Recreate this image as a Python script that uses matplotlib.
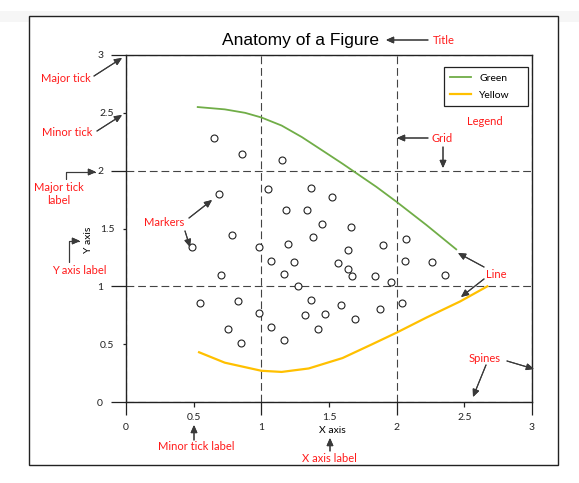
import matplotlib.pyplot as plt
from matplotlib.patches import Rectangle

plt.rcParams['font.family'] = ['Lato', 'DejaVu Sans']

W, H = 579, 483

# Data
marker_x = [0.65, 0.86, 1.15, 0.69, 1.05, 1.37, 1.52, 1.18, 1.34, 1.45,
            0.78, 1.66, 1.38, 0.49, 0.98, 1.20, 1.64, 1.90, 2.07, 1.07,
            1.24, 1.57, 1.64, 2.06, 2.26, 0.70, 1.17, 1.67, 1.84, 2.36,
            1.27, 1.96, 0.55, 0.83, 0.98, 1.37, 1.59, 2.04, 1.47, 1.32,
            1.88, 1.69, 0.75, 1.07, 1.42, 0.85, 1.17]
marker_y = [2.28, 2.14, 2.09, 1.80, 1.84, 1.85, 1.77, 1.66, 1.66, 1.54,
            1.44, 1.51, 1.43, 1.34, 1.34, 1.37, 1.31, 1.36, 1.41, 1.22,
            1.21, 1.20, 1.15, 1.22, 1.21, 1.10, 1.11, 1.09, 1.09, 1.10,
            1.00, 1.04, 0.86, 0.87, 0.77, 0.88, 0.84, 0.86, 0.76, 0.75,
            0.80, 0.72, 0.63, 0.65, 0.63, 0.51, 0.54]

green_x = [0.53, 0.73, 0.88, 1.00, 1.15, 1.30, 1.47, 1.60, 1.85, 2.00, 2.22, 2.44]
green_y = [2.55, 2.53, 2.50, 2.46, 2.39, 2.29, 2.16, 2.06, 1.86, 1.73, 1.53, 1.32]

yellow_x = [0.54, 0.73, 1.00, 1.15, 1.35, 1.60, 1.82, 2.00, 2.22, 2.47, 2.67]
yellow_y = [0.43, 0.34, 0.27, 0.26, 0.29, 0.38, 0.50, 0.60, 0.73, 0.87, 1.00]

major_ticks = [0, 1, 2, 3]
major_labels = ['0', '1', '2', '3']
minor_ticks = [0.5, 1.5, 2.5]
minor_labels = ['0.5', '1.5', '2.5']

fig = plt.figure(figsize=(W / 100, H / 100), dpi=100)
fig.patch.set_facecolor('white')


def fx(x):
    return x / W


def fy(y):
    return 1 - y / H


# outer frame
fig.add_artist(Rectangle((fx(0), fy(22)), 1, 11 / H, transform=fig.transFigure,
                         facecolor='#f6f6f6', edgecolor='none', zorder=0))
fig.add_artist(Rectangle((fx(29), fy(465)), (558 - 29) / W, (465 - 16) / H,
                         transform=fig.transFigure, facecolor='white',
                         edgecolor='#222222', lw=1.0, zorder=0.5))

ax = fig.add_axes([fx(126), fy(402), (532 - 126) / W, (402 - 55) / H])
ax.set_zorder(1)
ax.patch.set_alpha(0)

ax.plot(green_x, green_y, color='#70ad47', lw=1.3, label='Green',
        solid_joinstyle='round')
ax.plot(yellow_x, yellow_y, color='#ffc000', lw=1.6, label='Yellow',
        solid_joinstyle='round')
ax.plot(marker_x, marker_y, ls='none', marker='o', ms=5, mfc='white',
        mec='#222222', mew=0.8)

ax.set_xlim(0, 3)
ax.set_ylim(0, 3)
ax.set_xticks(major_ticks, major_labels)
ax.set_xticks(minor_ticks, minor_labels, minor=True)
ax.set_yticks(major_ticks, major_labels)
ax.set_yticks(minor_ticks, minor_labels, minor=True)

ax.tick_params(axis='both', which='both', direction='out', width=0.9,
               colors='#222222', labelsize=7.5)
ax.tick_params(axis='x', which='major', length=9.4, pad=6)
ax.tick_params(axis='x', which='minor', length=3.6, pad=4)
ax.tick_params(axis='y', which='major', length=10.5, pad=6)
ax.tick_params(axis='y', which='minor', length=2.5, pad=6)

for s in ax.spines.values():
    s.set_linewidth(1.0)
    s.set_color('#222222')

ax.set_axisbelow(True)
ax.grid(True, which='major', color='#444444', lw=0.8, ls=(0, (7, 3.5)))

ax.set_title('Anatomy of a Figure', family=['Liberation Sans', 'DejaVu Sans'],
             fontsize=12.5, x=(300 - 126) / 406, pad=7)
ax.set_xlabel('X axis', fontsize=7.5)
ax.xaxis.set_label_coords((332 - 126) / 406, (402 - 426) / 347)
ax.set_ylabel('Y axis', fontsize=7.5)
ax.yaxis.set_label_coords((93 - 126) / 406, (402 - 240) / 347)

leg = ax.legend(loc='upper left', mode='expand',
                bbox_to_anchor=((444 - 126) / 406, (402 - 67) / 347, 84 / 406, 0),
                borderaxespad=0, fancybox=False, edgecolor='#222222', framealpha=1,
                fontsize=7.5, handlelength=2.0, handletextpad=0.8,
                labelspacing=0.75, borderpad=0.6)
leg.get_frame().set_linewidth(0.9)

# red annotations
red = '#ff1a1a'
arrow_kw = dict(arrowstyle='-|>,head_length=0.45,head_width=0.2',
                color='#3a3a3a', lw=0.8, shrinkA=0, shrinkB=0)


def note(text, x, y, **kw):
    fig.text(fx(x), fy(y), text, color=red, fontsize=8, ha='center',
             va='center', **kw)


def arrow(x0, y0, x1, y1, conn='arc3'):
    fig.add_artist(plt.annotate('', xy=(fx(x1), fy(y1)), xytext=(fx(x0), fy(y0)),
                                xycoords='figure fraction',
                                textcoords='figure fraction',
                                arrowprops=dict(connectionstyle=conn, **arrow_kw)))


note('Title', 444, 41)
arrow(428, 40, 386, 40)
note('Major tick', 66, 78)
arrow(94, 76, 122, 58)
note('Minor tick', 67, 133)
arrow(97, 131, 122, 115)
note('Major tick\nlabel', 59, 194, linespacing=1.3)
arrow(66, 179, 96, 172, 'angle,angleA=90,angleB=0,rad=0')
note('Markers', 164, 223)
arrow(189, 218, 212, 200)
arrow(185, 231, 190, 247)
note('Y axis label', 79, 270)
arrow(69, 262, 80, 241, 'angle,angleA=90,angleB=0,rad=0')
note('Legend', 485, 121)
note('Grid', 442, 138)
arrow(428, 138, 397, 138)
arrow(443, 147, 443, 168)
note('Line', 496, 275)
arrow(484, 267, 458, 253)
arrow(484, 279, 461, 297)
note('Spines', 485, 358)
arrow(507, 361, 534, 369)
arrow(486, 365, 473, 397)
note('Minor tick label', 196, 447)
arrow(194, 440, 194, 425)
note('X axis label', 329, 458)
arrow(330, 451, 330, 438)

fig.savefig('out.png', dpi=100)
